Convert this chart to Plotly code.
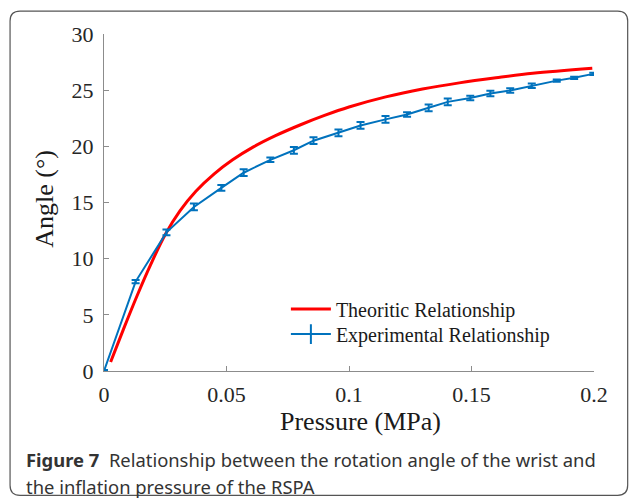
import plotly.graph_objects as go

exp_pressure = [0.0, 0.0129, 0.0255, 0.0367, 0.0479, 0.0570, 0.0679, 0.0775, 0.0855, 0.0957,
                 0.1047, 0.1149, 0.1237, 0.1325, 0.1403, 0.1495, 0.1577, 0.1658, 0.1746,
                 0.1848, 0.1919, 0.1997]
exp_angle = [0.0, 7.96, 12.34, 14.6, 16.3, 17.65, 18.8, 19.65, 20.5, 21.2,
             21.86, 22.4, 22.84, 23.43, 23.96, 24.3, 24.7, 24.97, 25.4,
             25.85, 26.1, 26.45]
exp_error = [0.1, 0.15, 0.25, 0.3, 0.25, 0.3, 0.2, 0.3, 0.3, 0.3,
             0.3, 0.3, 0.2, 0.3, 0.3, 0.2, 0.25, 0.2, 0.2,
             0.1, 0.1, 0.1]

# Theoretical curve
theo_pressure = [0.0027, 0.008, 0.0135, 0.019, 0.025, 0.031, 0.0375, 0.045, 0.0525, 0.061,
                 0.07, 0.08, 0.09, 0.1, 0.115, 0.13, 0.145, 0.16, 0.175, 0.1993]
theo_angle = [0.8, 3.75, 6.7, 9.45, 12.15, 14.25, 16.0, 17.55, 18.8, 19.95,
              20.95, 21.9, 22.75, 23.5, 24.4, 25.1, 25.65, 26.1, 26.5, 26.95]

x_ticks = [0, 0.05, 0.1, 0.15, 0.2]
x_ticklabels = ["0", "0.05", "0.1", "0.15", "0.2"]
y_ticks = [0, 5, 10, 15, 20, 25, 30]

W, H = 629, 502
L, R, T, B = 104, 629 - 594.3, 34, 502 - 371.5
pw, ph = W - L - R, H - T - B


def px(x):
    return (x - L) / pw


def py(y):
    return (H - B - y) / ph


BLUE = "#0072BD"
fig = go.Figure()
fig.add_trace(go.Scatter(
    x=theo_pressure, y=theo_angle, mode="lines", name="Theoritic Relationship",
    line=dict(color="#FF0000", width=3, shape="spline", smoothing=1.0),
    cliponaxis=False, legend="legend",
))
fig.add_trace(go.Scatter(
    x=exp_pressure, y=exp_angle, mode="lines", name="Experimental Relationship",
    line=dict(color=BLUE, width=2),
    error_y=dict(type="data", array=exp_error, visible=True, color=BLUE,
                 thickness=2, width=4),
    cliponaxis=False, showlegend=False,
))
# legend entry for experimental series (line with error-bar glyph)
fig.add_trace(go.Scatter(
    x=[None], y=[None], mode="lines+markers", name="Experimental Relationship",
    line=dict(color=BLUE, width=2),
    marker=dict(symbol="line-ns-open", size=14, color=BLUE, line=dict(color=BLUE, width=2)),
    legend="legend2",
))

serif = "Liberation Serif, Times New Roman, serif"
leg_common = dict(xanchor="left", yanchor="top", bgcolor="rgba(0,0,0,0)",
                  font=dict(family=serif, size=20, color="#1a1a1a"), itemwidth=40)
fig.update_layout(
    width=W, height=H,
    margin=dict(l=L, r=R, t=T, b=B),
    paper_bgcolor="white", plot_bgcolor="white",
    showlegend=True,
    legend=dict(x=px(286), y=py(290), **leg_common),
    legend2=dict(x=px(286), y=py(315), **leg_common),
    xaxis=dict(range=[0, 0.2], tickvals=x_ticks, ticktext=x_ticklabels,
               showgrid=False, zeroline=False, showline=True, linecolor="#8c8c8c",
               linewidth=1, ticks="inside", ticklen=5, tickcolor="#8c8c8c",
               ticklabelstandoff=4,
               tickfont=dict(family=serif, size=22, color="#262626")),
    yaxis=dict(range=[0, 30], tickvals=y_ticks,
               showgrid=False, zeroline=False, showline=True, linecolor="#8c8c8c",
               linewidth=1, ticks="inside", ticklen=5, tickcolor="#8c8c8c",
               ticklabelstandoff=5,
               tickfont=dict(family=serif, size=22, color="#262626")),
)

# axis titles
fig.add_annotation(x=px(361), y=py(422), xref="paper", yref="paper", showarrow=False,
                   xanchor="center", yanchor="middle", text="Pressure (MPa)",
                   font=dict(family=serif, size=26, color="#1a1a1a"))
fig.add_annotation(x=px(45), y=py(199), xref="paper", yref="paper", showarrow=False,
                   xanchor="center", yanchor="middle", text="Angle (°)", textangle=-90,
                   font=dict(family=serif, size=26, color="#1a1a1a"))

# rounded frame
x0, x1, y0, y1 = px(10), px(628), py(11), py(496)
rx, ry = 10 / pw, 10 / ph
path = (f"M {x0+rx},{y0} L {x1-rx},{y0} Q {x1},{y0} {x1},{y0-ry} "
        f"L {x1},{y1+ry} Q {x1},{y1} {x1-rx},{y1} "
        f"L {x0+rx},{y1} Q {x0},{y1} {x0},{y1+ry} "
        f"L {x0},{y0-ry} Q {x0},{y0} {x0+rx},{y0} Z")
fig.add_shape(type="path", path=path, xref="paper", yref="paper",
              line=dict(color="#555555", width=1.2), layer="below")

cap_font = "Noto Sans, Open Sans, sans-serif"
fig.add_annotation(x=px(24), y=py(470.4), xref="paper", yref="paper",
                   xanchor="left", yanchor="bottom", showarrow=False, align="left",
                   text="<b>Figure 7</b>  Relationship between the rotation angle of the wrist and",
                   font=dict(family=cap_font, size=18.4, color="#333333"), yshift=-4)
fig.add_annotation(x=px(24), y=py(497.4), xref="paper", yref="paper",
                   xanchor="left", yanchor="bottom", showarrow=False, align="left",
                   text="the inflation pressure of the RSPA",
                   font=dict(family=cap_font, size=18.4, color="#333333"), yshift=-4)

fig.write_html("out.html")
